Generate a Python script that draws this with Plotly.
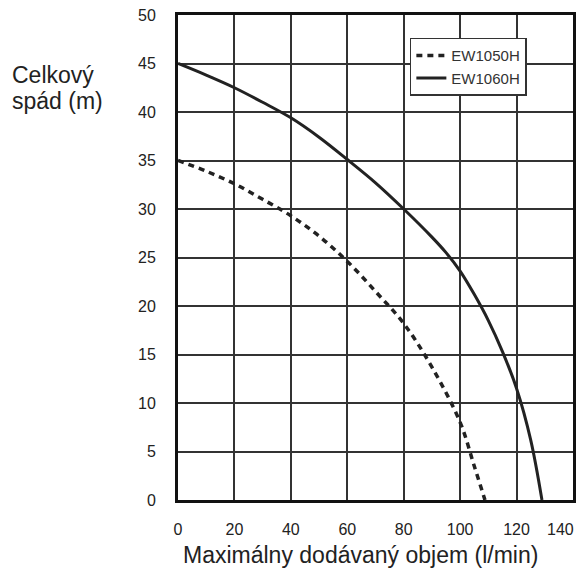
import plotly.graph_objects as go

# Kennlinien der Pumpen
flow_1050 = [0, 10, 20, 30, 40, 50, 60, 70, 80, 90, 100, 105, 108.8]
head_1050 = [35, 33.9, 32.6, 31, 29.3, 27.2, 24.6, 21.5, 18.2, 13.7, 8, 3.5, 0]

flow_1060 = [0, 10, 20, 30, 40, 50, 60, 70, 80, 90, 95, 100, 105, 110, 115, 120, 125, 129]
head_1060 = [45, 43.8, 42.5, 41, 39.4, 37.4, 35.1, 32.7, 30, 27.1, 25.5, 23.6, 21.2, 18.5, 15.3, 11.5, 6.2, 0]

x_ticks = [0, 20, 40, 60, 80, 100, 120, 140]
x_tick_labels = ["0", "20", "40", "60", "80", "100", "120", "140"]
y_ticks = [0, 5, 10, 15, 20, 25, 30, 35, 40, 45, 50]

x_title = "Maximálny dodávaný objem (l/min)"
y_title_lines = ["Celkový", "spád (m)"]

FONT = "Liberation Sans, Arial, sans-serif"

fig = go.Figure()

fig.add_trace(
    go.Scatter(
        x=flow_1050,
        y=head_1050,
        mode="lines",
        name="EW1050H",
        line=dict(color="#222222", width=3.5, dash="6px,5px", shape="spline", smoothing=1),
    )
)

fig.add_trace(
    go.Scatter(
        x=flow_1060,
        y=head_1060,
        mode="lines",
        name="EW1060H",
        line=dict(color="#222222", width=3, shape="spline", smoothing=1),
    )
)

# Seite hat 8px Rand -> Figur kleiner, damit kein Scrollbalken entsteht
fig.update_layout(
    width=577,
    height=560,
    margin=dict(l=170, r=12, t=7, b=68),
    paper_bgcolor="white",
    plot_bgcolor="white",
    font=dict(family=FONT, color="#222222"),
    showlegend=True,
    legend=dict(
        x=0.587,
        y=0.953,
        xanchor="left",
        yanchor="top",
        bgcolor="white",
        bordercolor="#333333",
        borderwidth=1.5,
        font=dict(size=15, color="#333333"),
        tracegroupgap=0,
    ),
    xaxis=dict(
        range=[0, 140],
        tickvals=x_ticks,
        # letzte Beschriftung separat, sonst am Rand abgeschnitten
        ticktext=x_tick_labels[:-1] + [""],
        automargin=False,
        ticklabeloverflow="allow",
        showgrid=True,
        gridcolor="#333333",
        gridwidth=2,
        showline=True,
        linecolor="#111111",
        linewidth=3,
        mirror=True,
        zeroline=False,
        ticks="outside",
        ticklen=0,
        ticklabelstandoff=13,
        tickfont=dict(size=16),
    ),
    yaxis=dict(
        range=[0, 50],
        tickvals=y_ticks,
        automargin=False,
        ticklabeloverflow="allow",
        showgrid=True,
        gridcolor="#333333",
        gridwidth=2,
        showline=True,
        linecolor="#111111",
        linewidth=3,
        mirror=True,
        zeroline=False,
        ticks="outside",
        ticklen=0,
        ticklabelstandoff=16,
        tickfont=dict(size=16),
    ),
)

fig.add_annotation(
    text=x_tick_labels[-1],
    xref="x",
    yref="paper",
    x=x_ticks[-1],
    y=0,
    xanchor="right",
    yanchor="middle",
    xshift=3,
    yshift=-29,
    showarrow=False,
    font=dict(size=16, color="#222222"),
)

fig.add_annotation(
    text=x_title,
    xref="paper",
    yref="paper",
    x=0.461,
    y=0,
    xanchor="center",
    yanchor="middle",
    yshift=-55,
    showarrow=False,
    font=dict(size=23, color="#222222"),
)

for line, ypos in zip(y_title_lines, [0.876, 0.822]):
    fig.add_annotation(
        text=line,
        xref="paper",
        yref="paper",
        x=-0.425,
        y=ypos,
        xanchor="left",
        yanchor="middle",
        showarrow=False,
        font=dict(size=23, color="#222222"),
    )

fig.write_html("out.html")
